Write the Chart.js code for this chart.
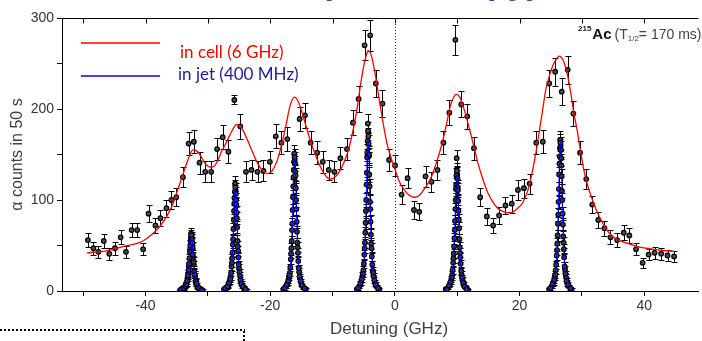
<!DOCTYPE html>
<html>
<head>
<meta charset="utf-8">
<script src="https://cdn.jsdelivr.net/npm/chart.js@4.4.1/dist/chart.umd.min.js"></script>
<style>
  html, body { margin: 0; padding: 0; background: #fff; }
  #wrap { width: 702px; height: 341px; }
</style>
</head>
<body>
<div id="wrap"><canvas id="spectrum" width="702" height="341"></canvas></div>
<script>
// tick labels
const xTickLabels = [-40, -20, 0, 20, 40];
const yTickLabels = [0, 100, 200, 300];

// gas cell scan (6 GHz resolution): detuning, counts, error
const cellX = [
  -49.25, -48.36, -47.56, -46.70, -45.81, -44.90, -43.99, -43.14, -42.23, -41.34,
  -40.38, -39.52, -38.41, -37.61, -36.65, -35.85, -35.06, -34.00, -33.09, -32.25,
  -31.34, -30.43, -29.47, -28.52, -27.62, -26.71, -25.76, -24.80, -23.89, -23.00,
  -22.04, -21.08, -20.06, -19.11, -18.21, -17.26, -15.28, -14.43, -13.52, -12.47,
  -11.56, -10.61, -9.70, -8.74, -7.69, -6.73, -5.82, -4.86, -3.96, -3.06,
  -1.99, -0.93, 0.03, 1.08, 2.04, 3.06, 3.91, 4.91, 5.87, 6.83,
  7.78, 8.74, 9.70, 10.65, 11.61, 12.68, 13.68, 14.75, 15.76, 16.71,
  17.74, 18.74, 19.74, 20.70, 21.61, 22.68, 23.73, 24.75, 25.71, 26.76,
  27.72, 28.63, 29.70, 30.70, 31.66, 32.62, 33.62, 34.58, 35.65, 36.71,
  37.61, 38.68, 39.74, 40.70, 41.66, 42.71, 43.73, 44.78
];
const cellY = [
  56, 47, 43, 55, 41, 47, 59, 43, 67, 67,
  46, 85, 72, 80, 91, 100, 103, 125, 162, 164,
  141, 131, 131, 156, 169, 153, 210, 181, 131, 133,
  131, 132, 142, 170, 163, 167, 189, 193, 163, 152,
  142, 133, 131, 146, 156, 185, 211, 270, 281, 228,
  206, 144, 138, 106, 124, 89, 87, 126, 120, 133,
  163, 196, 276, 205, 192, 157, 103, 82, 72, 83,
  94, 96, 111, 113, 118, 163, 164, 228, 241, 219,
  243, 195, 152, 123, 95, 78, 69, 59, 56, 64,
  61, 46, 31, 40, 42, 41, 39, 38
];
const cellErr = [
  7.5, 6.9, 6.6, 7.4, 6.4, 6.9, 7.7, 6.6, 8.2, 8.2,
  6.8, 9.2, 8.5, 8.9, 9.5, 10, 10.1, 11.2, 12.7, 12.8,
  11.9, 11.4, 11.4, 12.5, 13, 12.4, 5, 13.5, 11.4, 11.5,
  11.4, 11.5, 11.9, 13, 12.8, 12.9, 13.7, 13.9, 12.8, 12.3,
  11.9, 11.5, 11.4, 12.1, 12.5, 13.6, 14.5, 16.4, 16.8, 15.1,
  14.4, 12, 11.7, 10.3, 11.1, 9.4, 9.3, 11.2, 11, 11.5,
  12.8, 14, 16.6, 14.3, 13.9, 12.5, 10.1, 9.1, 8.5, 9.1,
  9.7, 9.8, 10.5, 10.6, 10.9, 12.8, 12.8, 15.1, 15.5, 14.8,
  15.6, 14, 12.3, 11.1, 9.7, 8.8, 8.3, 7.7, 7.5, 8,
  7.8, 6.8, 5.6, 6.3, 6.5, 6.4, 6.2, 6.2
];

// fit curve of the cell scan
const cellFit = [
  [-49.4, 42], [-47.5, 43], [-45.7, 45], [-43.5, 49], [-41.5, 52], [-40.4, 55], [-39, 62], [-37.7, 71],
  [-36.6, 82], [-35.6, 96], [-34.9, 110], [-34.2, 124], [-33.2, 144], [-32.4, 155], [-31.8, 154], [-31.3, 150],
  [-30.3, 139], [-29.5, 136], [-29.0, 137], [-28.3, 145], [-27.9, 152], [-27.2, 161], [-26.5, 171], [-25.8, 180],
  [-25.4, 183], [-24.9, 181], [-24.4, 177], [-23.6, 165], [-22.8, 152], [-22.0, 140], [-21.2, 132], [-20.4, 129],
  [-19.7, 132], [-18.9, 143], [-18.2, 160], [-17.5, 181], [-16.8, 204], [-16.1, 213], [-15.5, 208], [-14.8, 194],
  [-14.0, 175], [-13.2, 158], [-12.5, 145], [-11.7, 133], [-10.9, 125], [-10.4, 123], [-9.8, 124], [-9.0, 130],
  [-8.2, 141], [-7.4, 156], [-6.7, 177], [-6.1, 199], [-5.5, 227], [-5.0, 247], [-4.6, 259], [-4.3, 264],
  [-3.9, 261], [-3.6, 254], [-3.1, 236], [-2.6, 214], [-2.0, 189], [-1.3, 163], [-0.6, 146], [0, 134],
  [0.6, 122], [1.3, 113], [2.0, 107], [2.6, 104], [3.2, 103], [3.9, 105], [4.6, 111], [5.2, 117],
  [5.9, 126], [6.6, 140], [7.2, 153], [7.7, 166], [8.3, 184], [8.8, 201], [9.3, 211], [9.85, 216],
  [10.4, 213], [10.9, 204], [11.5, 190], [12.0, 177], [12.7, 158], [13.3, 141], [14.1, 123], [14.9, 108],
  [15.7, 98], [16.5, 91], [17.5, 87], [18.6, 86], [19.7, 91], [20.5, 97], [21.3, 110], [22.1, 133],
  [22.7, 155], [23.2, 177], [23.7, 199], [24.2, 221], [24.8, 237], [25.3, 247], [25.8, 254], [26.35, 258],
  [26.8, 256], [27.15, 251], [27.7, 237], [28.2, 218], [28.7, 196], [29.3, 174], [29.8, 153], [30.3, 133],
  [31.0, 114], [31.7, 100], [32.5, 86], [33.3, 75], [34.0, 67], [34.9, 60], [36.2, 55], [37.5, 52],
  [38.8, 49], [40.2, 47], [42.5, 45], [44.85, 43.5]
];

// gas jet scans (400 MHz resolution): [detuning, counts, error]
const jet1 = [
  [-34.45, 1, 1.5], [-34.05, 3, 2], [-33.75, 4, 2], [-33.55, 7, 2.5], [-33.4, 9, 3], [-33.25, 15, 3.5],
  [-33.15, 19, 4], [-33.05, 27, 4.5], [-32.95, 36, 5], [-32.85, 46, 5.5], [-32.77, 55, 6], [-32.69, 63, 6],
  [-32.61, 59, 6], [-32.53, 52, 6], [-32.45, 48, 5.5], [-32.35, 34, 5], [-32.25, 29, 4.5], [-32.15, 18, 4],
  [-32.05, 16, 3.5], [-31.9, 11, 3], [-31.75, 6, 2.5], [-31.55, 4, 2], [-31.25, 2, 1.5], [-30.85, 1, 1.5],
  [-34.25, 2, 1.5], [-33.9, 3, 2], [-33.65, 5, 2], [-33.47, 7, 2.5], [-33.33, 11, 3], [-33.2, 17, 4],
  [-33.1, 23, 4.5], [-33.0, 30, 5], [-32.9, 43, 5.5], [-32.81, 50, 6], [-32.73, 58, 6], [-32.65, 61, 6],
  [-32.57, 57, 6], [-32.49, 53, 6], [-32.4, 40, 5.5], [-32.3, 32, 5], [-32.2, 21, 4.5], [-32.1, 18, 4],
  [-31.97, 10, 3], [-31.83, 8, 2.5], [-31.65, 4, 2], [-31.4, 3, 2], [-31.05, 1, 1.5]
];
const jet2 = [
  [-27.4, 2, 1.5], [-27.0, 4, 2], [-26.7, 7, 2.5], [-26.5, 11, 3], [-26.35, 16, 3.5], [-26.2, 27, 4.5],
  [-26.1, 36, 5], [-26.0, 51, 6], [-25.9, 68, 6.5], [-25.8, 88, 7], [-25.72, 102, 7.5], [-25.64, 118, 8],
  [-25.56, 111, 8], [-25.48, 100, 7.5], [-25.4, 86, 7], [-25.3, 70, 6.5], [-25.2, 49, 6], [-25.1, 37, 5],
  [-25.0, 25, 4.5], [-24.85, 17, 3.5], [-24.7, 10, 3], [-24.5, 6, 2.5], [-24.2, 3, 2], [-23.8, 1, 1.5],
  [-27.2, 3, 1.5], [-26.85, 5, 2], [-26.6, 9, 2.5], [-26.42, 13, 3], [-26.28, 20, 3.5], [-26.15, 31, 4.5],
  [-26.05, 42, 5], [-25.95, 57, 6], [-25.85, 78, 6.5], [-25.76, 96, 7], [-25.68, 109, 7.5], [-25.6, 114, 8],
  [-25.52, 107, 7.5], [-25.44, 95, 7], [-25.35, 80, 6.5], [-25.25, 55, 6], [-25.15, 44, 5], [-25.05, 29, 4.5],
  [-24.92, 21, 3.5], [-24.78, 12, 3], [-24.6, 8, 2.5], [-24.35, 5, 2], [-24.0, 2, 1.5]
];
const jet3 = [
  [-17.9, 2, 1.5], [-17.5, 5, 2], [-17.2, 9, 2.5], [-17.0, 15, 3], [-16.85, 20, 4], [-16.7, 35, 5],
  [-16.6, 47, 5.5], [-16.5, 67, 6.5], [-16.4, 89, 7], [-16.3, 115, 8], [-16.22, 133, 8.5], [-16.14, 151, 9],
  [-16.06, 144, 9], [-15.98, 131, 8.5], [-15.9, 113, 8], [-15.8, 90, 7], [-15.7, 65, 6.5], [-15.6, 48, 5.5],
  [-15.5, 33, 5], [-15.35, 21, 4], [-15.2, 14, 3], [-15.0, 8, 2.5], [-14.7, 4, 2], [-14.3, 2, 1.5],
  [-17.7, 3, 1.5], [-17.35, 7, 2], [-17.1, 11, 2.5], [-16.92, 17, 3], [-16.78, 26, 4], [-16.65, 41, 5],
  [-16.55, 55, 5.5], [-16.45, 74, 6.5], [-16.35, 103, 7.5], [-16.26, 125, 8], [-16.18, 142, 8.5], [-16.1, 147, 9],
  [-16.02, 140, 8.5], [-15.94, 127, 8], [-15.85, 100, 7.5], [-15.75, 76, 6.5], [-15.65, 53, 5.5], [-15.55, 42, 5],
  [-15.42, 25, 4], [-15.28, 16, 3], [-15.1, 11, 2.5], [-14.85, 6, 2], [-14.5, 3, 1.5]
];
const jet4 = [
  [-6.1, 2, 1.5], [-5.7, 5, 2], [-5.4, 10, 3], [-5.2, 17, 3.5], [-5.05, 23, 4], [-4.9, 40, 5],
  [-4.8, 53, 6], [-4.7, 75, 7], [-4.6, 100, 8], [-4.5, 130, 8.5], [-4.42, 152, 9], [-4.34, 184, 10],
  [-4.26, 170, 9.5], [-4.18, 148, 9], [-4.1, 128, 8.5], [-4.0, 98, 8], [-3.9, 76, 7], [-3.8, 52, 6],
  [-3.7, 38, 5], [-3.55, 22, 4], [-3.4, 16, 3.5], [-3.2, 9, 3], [-2.9, 5, 2], [-2.5, 2, 1.5],
  [-5.9, 3, 1.5], [-5.55, 8, 2.5], [-5.3, 13, 3], [-5.12, 19, 3.5], [-4.98, 30, 4.5], [-4.85, 47, 5.5],
  [-4.75, 64, 6.5], [-4.65, 88, 7.5], [-4.55, 117, 8], [-4.46, 147, 9], [-4.38, 165, 9.5], [-4.3, 176, 10],
  [-4.22, 162, 9.5], [-4.14, 150, 9], [-4.05, 115, 8], [-3.95, 90, 7.5], [-3.85, 62, 6.5], [-3.75, 47, 5.5],
  [-3.62, 29, 4.5], [-3.48, 20, 3.5], [-3.3, 12, 3], [-3.05, 7, 2.5], [-2.7, 3, 1.5]
];
const jet5 = [
  [8.15, 2, 1.5], [8.55, 4, 2], [8.85, 8, 2.5], [9.05, 13, 3], [9.2, 18, 3.5], [9.35, 31, 4.5],
  [9.45, 41, 5], [9.55, 58, 6], [9.65, 77, 7], [9.75, 100, 7.5], [9.83, 116, 8], [9.91, 146, 9],
  [9.99, 128, 8.5], [10.07, 114, 8], [10.15, 99, 7.5], [10.25, 78, 7], [10.35, 57, 6], [10.45, 42, 5],
  [10.55, 30, 4.5], [10.7, 18, 3.5], [10.85, 12, 3], [11.05, 7, 2.5], [11.35, 4, 2], [11.75, 1, 1.5],
  [8.35, 2, 1.5], [8.7, 6, 2], [8.95, 10, 2.5], [9.13, 15, 3], [9.27, 23, 4], [9.4, 36, 5],
  [9.5, 49, 5.5], [9.6, 67, 6.5], [9.7, 90, 7], [9.79, 112, 8], [9.87, 127, 8.5], [9.95, 132, 8.5],
  [10.03, 124, 8.5], [10.11, 111, 8], [10.2, 88, 7], [10.3, 69, 6.5], [10.4, 48, 5.5], [10.5, 37, 5],
  [10.63, 22, 4], [10.77, 15, 3], [10.95, 9, 2.5], [11.2, 5, 2], [11.55, 2, 1.5]
];
const jet6 = [
  [24.75, 2, 1.5], [25.15, 5, 2], [25.45, 10, 3], [25.65, 16, 3.5], [25.8, 23, 4], [25.95, 39, 5],
  [26.05, 52, 6], [26.15, 74, 7], [26.25, 98, 8], [26.35, 128, 8.5], [26.43, 148, 9], [26.51, 166, 9.5],
  [26.59, 160, 9.5], [26.67, 146, 9], [26.75, 126, 8.5], [26.85, 100, 8], [26.95, 73, 7], [27.05, 53, 6],
  [27.15, 37, 5], [27.3, 24, 4], [27.45, 15, 3.5], [27.65, 9, 3], [27.95, 5, 2], [28.35, 2, 1.5],
  [24.95, 3, 1.5], [25.3, 8, 2.5], [25.55, 12, 3], [25.73, 18, 3.5], [25.87, 29, 4.5], [26.0, 45, 5.5],
  [26.1, 61, 6.5], [26.2, 84, 7.5], [26.3, 112, 8], [26.39, 140, 9], [26.47, 157, 9.5], [26.55, 163, 9.5],
  [26.63, 155, 9.5], [26.71, 138, 9], [26.8, 110, 8], [26.9, 85, 7.5], [27.0, 60, 6.5], [27.1, 46, 5.5],
  [27.23, 27, 4.5], [27.37, 19, 3.5], [27.55, 11, 3], [27.8, 7, 2.5], [28.15, 3, 1.5]
];

// fit curves of the jet scans
const jetFit1 = [
  [-34.85, 0], [-34.25, 1], [-33.85, 3], [-33.55, 6], [-33.35, 10], [-33.15, 19], [-33.0, 31], [-32.85, 47], [-32.75, 56],
  [-32.65, 60], [-32.55, 56], [-32.45, 47], [-32.3, 31], [-32.15, 19], [-31.95, 11], [-31.75, 7], [-31.45, 3], [-31.05, 1], [-30.45, 0]
];
const jetFit2 = [
  [-27.8, 0], [-27.2, 2], [-26.8, 6], [-26.5, 11], [-26.3, 19], [-26.1, 36], [-25.95, 59], [-25.8, 88], [-25.7, 106],
  [-25.6, 113], [-25.5, 106], [-25.4, 88], [-25.25, 59], [-25.1, 36], [-24.9, 19], [-24.7, 11], [-24.4, 6], [-24.0, 2], [-23.4, 0]
];
const jetFit3 = [
  [-18.3, 0], [-17.7, 3], [-17.3, 7], [-17.0, 15], [-16.8, 25], [-16.6, 47], [-16.45, 77], [-16.3, 115], [-16.2, 139],
  [-16.1, 148], [-16.0, 139], [-15.9, 115], [-15.75, 77], [-15.6, 47], [-15.4, 25], [-15.2, 15], [-14.9, 7], [-14.5, 3], [-13.9, 0]
];
const jetFit4 = [
  [-6.5, 0], [-5.9, 3], [-5.5, 8], [-5.2, 17], [-5.0, 28], [-4.8, 53], [-4.65, 86], [-4.5, 129], [-4.4, 156],
  [-4.3, 166], [-4.2, 156], [-4.1, 129], [-3.95, 86], [-3.8, 53], [-3.6, 28], [-3.4, 17], [-3.1, 8], [-2.7, 3], [-2.1, 0]
];
const jetFit5 = [
  [7.75, 0], [8.35, 3], [8.75, 6], [9.05, 13], [9.25, 22], [9.45, 41], [9.6, 67], [9.75, 100], [9.85, 120],
  [9.95, 128], [10.05, 120], [10.15, 100], [10.3, 67], [10.45, 41], [10.65, 22], [10.85, 13], [11.15, 6], [11.55, 3], [12.15, 0]
];
const jetFit6 = [
  [24.35, 0], [24.95, 3], [25.35, 8], [25.65, 16], [25.85, 28], [26.05, 52], [26.2, 85], [26.35, 128], [26.45, 154],
  [26.55, 164], [26.65, 154], [26.75, 128], [26.9, 85], [27.05, 52], [27.25, 28], [27.45, 16], [27.75, 8], [28.15, 3], [28.75, 0]
];

const jetScans = [jet1, jet2, jet3, jet4, jet5, jet6];
const jetFits = [jetFit1, jetFit2, jetFit3, jetFit4, jetFit5, jetFit6];

const FONT = "'Liberation Sans', Arial, sans-serif";

const dotStyle = {
  pointRadius: 2.3,
  pointHoverRadius: 2.3,
  pointBackgroundColor: '#4d4d4d',
  pointBorderColor: '#000',
  pointBorderWidth: 1.2,
  showLine: false
};

const datasets = [
  {
    label: 'in cell (6 GHz)',
    data: cellFit.map(([x, y]) => ({ x, y })),
    showLine: true,
    borderColor: '#ff0000',
    borderWidth: 1.3,
    pointRadius: 0,
    cubicInterpolationMode: 'monotone',
    order: 0
  },
  ...jetFits.map((fit) => ({
    label: 'in jet (400 MHz)',
    data: fit.map(([x, y]) => ({ x, y })),
    showLine: true,
    borderColor: 'rgba(0, 0, 255, 0.85)',
    borderWidth: 1.2,
    pointRadius: 0,
    cubicInterpolationMode: 'monotone',
    order: 0
  })),
  {
    label: 'cell data',
    data: cellX.map((x, i) => ({ x, y: cellY[i] })),
    errors: cellErr,
    ...dotStyle,
    order: 1
  },
  ...jetScans.map((scan) => ({
    label: 'jet data',
    data: scan.map(([x, y]) => ({ x, y })),
    errors: scan.map((p) => p[2]),
    ...dotStyle,
    order: 2
  }))
];

// error bars, drawn under the markers
const errorBars = {
  id: 'errorBars',
  beforeDatasetsDraw(chart) {
    const { ctx, chartArea, scales: { x, y } } = chart;
    ctx.save();
    ctx.beginPath();
    ctx.rect(chartArea.left, chartArea.top, chartArea.right - chartArea.left, chartArea.bottom - chartArea.top);
    ctx.clip();
    ctx.strokeStyle = '#000';
    ctx.lineWidth = 1;
    chart.data.datasets.forEach((ds) => {
      if (!ds.errors) return;
      ds.data.forEach((p, i) => {
        const px = Math.round(x.getPixelForValue(p.x)) + 0.5;
        const top = Math.round(y.getPixelForValue(p.y + ds.errors[i])) + 0.5;
        const bot = Math.round(y.getPixelForValue(p.y - ds.errors[i])) + 0.5;
        ctx.beginPath();
        ctx.moveTo(px, top); ctx.lineTo(px, bot);
        ctx.moveTo(px - 3, top); ctx.lineTo(px + 3, top);
        ctx.moveTo(px - 3, bot); ctx.lineTo(px + 3, bot);
        ctx.stroke();
      });
    });
    ctx.restore();

    // dotted zero-detuning line
    const zx = Math.round(x.getPixelForValue(0)) + 0.5;
    ctx.save();
    ctx.strokeStyle = '#222';
    ctx.lineWidth = 1;
    ctx.setLineDash([1, 2]);
    ctx.beginPath();
    ctx.moveTo(zx, chartArea.top);
    ctx.lineTo(zx, chartArea.bottom);
    ctx.stroke();
    ctx.restore();
  }
};

// frame on top, legend and labels
const decorations = {
  id: 'decorations',
  afterDraw(chart) {
    const { ctx, chartArea, scales: { x } } = chart;
    ctx.save();

    // top border with inward ticks
    ctx.strokeStyle = '#000';
    ctx.lineWidth = 1;
    const ty = Math.round(chartArea.top) + 0.5;
    ctx.beginPath();
    ctx.moveTo(chartArea.left, ty);
    ctx.lineTo(chartArea.right, ty);
    x.ticks.forEach((t) => {
      const px = Math.round(x.getPixelForValue(t.value)) + 0.5;
      ctx.moveTo(px, ty);
      ctx.lineTo(px, ty + 5);
    });
    ctx.stroke();

    // x axis title
    ctx.font = `17px ${FONT}`;
    ctx.fillStyle = '#404040';
    ctx.textAlign = 'center';
    ctx.textBaseline = 'middle';
    ctx.fillText('Detuning (GHz)', 389, 329);
    ctx.textAlign = 'left';

    // legend
    ctx.lineWidth = 1.6;
    ctx.strokeStyle = '#ff0000';
    ctx.beginPath(); ctx.moveTo(81, 43); ctx.lineTo(160, 43); ctx.stroke();
    ctx.strokeStyle = '#0000ff';
    ctx.beginPath(); ctx.moveTo(81, 76); ctx.lineTo(160, 76); ctx.stroke();
    ctx.font = "17px Lato, 'Liberation Sans', sans-serif";
    ctx.fillStyle = '#ff0000';
    ctx.fillText('in cell (6 GHz)', 180, 53);
    ctx.fillStyle = '#1c1c9c';
    ctx.fillText('in jet (400 MHz)', 178, 75);

    // isotope label
    ctx.textBaseline = 'alphabetic';
    let cx = 578;
    ctx.fillStyle = '#222';
    ctx.font = `bold 8px ${FONT}`;
    ctx.fillText('215', cx, 31);
    cx += ctx.measureText('215').width + 1;
    ctx.font = `bold 15px ${FONT}`;
    ctx.fillStyle = '#111';
    ctx.fillText('Ac', cx, 39);
    cx += ctx.measureText('Ac').width + 3;
    ctx.font = `14px ${FONT}`;
    ctx.fillStyle = '#444';
    ctx.fillText('(T', cx, 39);
    cx += ctx.measureText('(T').width;
    ctx.font = `8px ${FONT}`;
    ctx.fillText('1/2', cx, 41);
    cx += ctx.measureText('1/2').width;
    ctx.font = `14px ${FONT}`;
    ctx.fillText('= 170 ms)', cx, 39);

    // title of the figure, cut by the top edge
    ctx.font = `bold 34px ${FONT}`;
    ctx.fillStyle = '#7030a0';
    ctx.textAlign = 'right';
    ctx.fillText('spectroscopy)', 538, -6);
    ctx.textAlign = 'left';

    // dotted frame of the neighbouring panel
    ctx.strokeStyle = '#000';
    ctx.lineWidth = 2;
    ctx.setLineDash([2, 2]);
    ctx.beginPath();
    ctx.moveTo(0, 330); ctx.lineTo(245, 330);
    ctx.moveTo(244, 331); ctx.lineTo(244, 341);
    ctx.stroke();

    ctx.restore();
  }
};

new Chart(document.getElementById('spectrum'), {
  type: 'scatter',
  data: { datasets },
  options: {
    responsive: false,
    animation: false,
    layout: { padding: { top: 18, right: 0, left: 0, bottom: 0 } },
    plugins: {
      legend: { display: false },
      tooltip: { enabled: false }
    },
    scales: {
      x: {
        type: 'linear',
        min: -53.4,
        max: 48.7,
        border: { color: '#000', width: 1 },
        grid: { drawOnChartArea: false, drawTicks: true, tickLength: 5, color: '#000' },
        ticks: {
          stepSize: 10,
          includeBounds: false,
          autoSkip: false,
          maxRotation: 0,
          padding: 2,
          color: '#333',
          font: { family: FONT, size: 14 },
          callback: (v) => (xTickLabels.includes(v) ? String(v) : '')
        },
        afterFit(scale) { scale.height = 50; }
      },
      y: {
        type: 'linear',
        min: 0,
        max: 300,
        border: { color: '#000', width: 1 },
        grid: { drawOnChartArea: false, drawTicks: true, tickLength: 5, color: '#000' },
        ticks: {
          stepSize: 50,
          autoSkip: false,
          padding: 3,
          color: '#333',
          font: { family: FONT, size: 14 },
          callback: (v) => (yTickLabels.includes(v) ? String(v) : '')
        },
        title: {
          display: true,
          text: 'α counts in 50 s',
          color: '#404040',
          font: { family: FONT, size: 16 },
          padding: { top: 8, bottom: 0 }
        },
        afterFit(scale) { scale.width = 62; }
      }
    }
  },
  plugins: [errorBars, decorations]
});
</script>
</body>
</html>
